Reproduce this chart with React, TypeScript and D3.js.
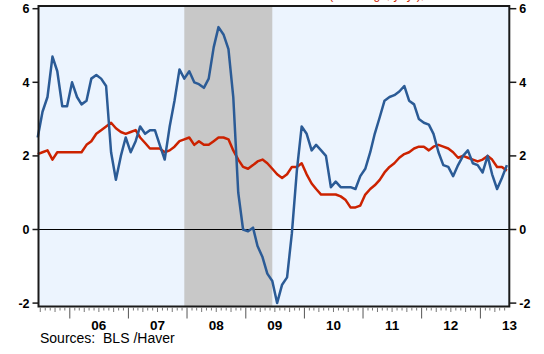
import React, { useEffect, useRef } from 'react';
import * as d3 from 'd3';

// monthly y/y % change, Jun 2005 .. Jun 2013
const headline = [
  2.5, 3.2, 3.6, 4.7, 4.3, 3.35, 3.35,
  4.0, 3.6, 3.4, 3.5, 4.1, 4.2, 4.1, 3.9, 2.1, 1.35, 2.0, 2.5,
  2.1, 2.4, 2.8, 2.6, 2.7, 2.7, 2.3, 1.9, 2.8, 3.5, 4.35, 4.1,
  4.3, 4.0, 3.95, 3.85, 4.1, 4.95, 5.5, 5.3, 4.9, 3.6, 1.0, 0.0,
  -0.05, 0.05, -0.45, -0.75, -1.2, -1.4, -2.0, -1.5, -1.3, -0.1, 1.6, 2.8,
  2.6, 2.15, 2.3, 2.15, 2.0, 1.15, 1.3, 1.15, 1.15, 1.15, 1.1, 1.45,
  1.65, 2.1, 2.6, 3.05, 3.5, 3.6, 3.65, 3.75, 3.9, 3.5, 3.4, 3.0,
  2.9, 2.85, 2.6, 2.1, 1.75, 1.7, 1.45, 1.75, 2.0, 2.15, 1.8, 1.75,
  1.55, 2.0, 1.5, 1.1, 1.4, 1.75
];
const core = [
  2.05, 2.1, 2.15, 1.9, 2.1, 2.1, 2.1,
  2.1, 2.1, 2.1, 2.3, 2.4, 2.6, 2.7, 2.8, 2.9, 2.75, 2.65, 2.6,
  2.65, 2.7, 2.5, 2.35, 2.2, 2.2, 2.2, 2.1, 2.15, 2.25, 2.4, 2.45,
  2.5, 2.3, 2.4, 2.3, 2.3, 2.4, 2.5, 2.5, 2.45, 2.15, 1.9, 1.7,
  1.65, 1.75, 1.85, 1.9, 1.8, 1.65, 1.5, 1.4, 1.5, 1.7, 1.7, 1.8,
  1.5, 1.25, 1.1, 0.95, 0.95, 0.95, 0.95, 0.9, 0.8, 0.6, 0.6, 0.65,
  0.95, 1.1, 1.2, 1.35, 1.55, 1.7, 1.8, 1.95, 2.05, 2.1, 2.2, 2.25,
  2.25, 2.15, 2.25, 2.3, 2.25, 2.2, 2.1, 1.95, 2.0, 1.95, 1.9, 1.85,
  1.9, 2.0, 1.9, 1.7, 1.7, 1.6
];
const yTicks = [-2, 0, 2, 4, 6];
const yearLabels = ['06', '07', '08', '09', '10', '11', '12', '13'];
const recession = [new Date(2007, 11, 15), new Date(2009, 5, 15)];
const title = 'Consumer Price Index: Headline and Core (% change, yr/yr), SA';
const source = 'Sources:  BLS /Haver';

const months = d3.range(headline.length).map(i => new Date(2005, 5 + i, 15));

export default function App() {
  const ref = useRef<SVGSVGElement>(null);

  useEffect(() => {
    const width = 544, height = 354;
    const margin = { top: 6, right: 34.7, bottom: 47.5, left: 38.5 };
    const font = '"Liberation Sans", Arial, sans-serif';

    const x = d3.scaleTime()
      .domain([new Date(2005, 5, 20), new Date(2013, 5, 30)])
      .range([margin.left, width - margin.right]);
    const y = d3.scaleLinear()
      .domain([-2, 6])
      .range([303.1, 8.7]);

    const svg = d3.select(ref.current);
    svg.selectAll('*').remove();
    svg.attr('width', width).attr('height', height);

    const plotBottom = height - margin.bottom;
    const plotRight = width - margin.right;

    // plot background
    svg.append('rect')
      .attr('x', margin.left).attr('y', margin.top)
      .attr('width', plotRight - margin.left).attr('height', plotBottom - margin.top)
      .attr('fill', '#ecf4fe');

    // recession band
    svg.append('rect')
      .attr('x', x(recession[0])).attr('y', margin.top)
      .attr('width', x(recession[1]) - x(recession[0])).attr('height', plotBottom - margin.top)
      .attr('fill', '#c8c8c8');

    // zero line
    svg.append('line')
      .attr('x1', margin.left).attr('x2', plotRight)
      .attr('y1', y(0)).attr('y2', y(0))
      .attr('stroke', '#000').attr('stroke-width', 1.2);

    const line = (vals: number[]) => d3.line<number>()
      .x((_, i) => x(months[i]))
      .y(d => y(d))(vals);

    svg.append('path')
      .attr('d', line(core))
      .attr('fill', 'none').attr('stroke', '#cc2200').attr('stroke-width', 2.5)
      .attr('stroke-linejoin', 'round');
    svg.append('path')
      .attr('d', line(headline))
      .attr('fill', 'none').attr('stroke', '#2b5b96').attr('stroke-width', 2.5)
      .attr('stroke-linejoin', 'round');

    // frame
    svg.append('rect')
      .attr('x', margin.left).attr('y', margin.top)
      .attr('width', plotRight - margin.left).attr('height', plotBottom - margin.top)
      .attr('fill', 'none').attr('stroke', '#1a1a1a').attr('stroke-width', 2);

    // y axes (both sides)
    yTicks.forEach(t => {
      svg.append('line')
        .attr('x1', margin.left - 6).attr('x2', margin.left)
        .attr('y1', y(t)).attr('y2', y(t))
        .attr('stroke', '#1a1a1a').attr('stroke-width', 1.5);
      svg.append('line')
        .attr('x1', plotRight).attr('x2', plotRight + 7)
        .attr('y1', y(t)).attr('y2', y(t))
        .attr('stroke', '#1a1a1a').attr('stroke-width', 1.5);
      svg.append('text')
        .attr('x', margin.left - 9).attr('y', y(t) + 4.5)
        .attr('text-anchor', 'end')
        .attr('font-family', font).attr('font-weight', 'bold').attr('font-size', 12.5)
        .text(t);
      svg.append('text')
        .attr('x', plotRight + 10).attr('y', y(t) + 4.5)
        .attr('font-family', font).attr('font-weight', 'bold').attr('font-size', 12.5)
        .text(t);
    });

    // x axis ticks: monthly, quarterly, yearly
    d3.timeMonth.range(x.domain()[0], x.domain()[1]).forEach(d => {
      const m = d.getMonth();
      const len = m === 0 ? 11 : m % 3 === 0 ? 4.5 : 3;
      svg.append('line')
        .attr('x1', x(d)).attr('x2', x(d))
        .attr('y1', plotBottom + 1).attr('y2', plotBottom + 1 + len)
        .attr('stroke', m === 0 ? '#555' : '#777').attr('stroke-width', 1);
    });
    yearLabels.forEach(l => {
      svg.append('text')
        .attr('x', x(new Date(2000 + +l, 6, 1))).attr('y', 330)
        .attr('text-anchor', 'middle')
        .attr('font-family', font).attr('font-weight', 'bold').attr('font-size', 13.5)
        .text(l);
    });

    svg.append('text')
      .attr('x', 40).attr('y', 343)
      .attr('font-family', font).attr('font-size', 14)
      .style('white-space', 'pre')
      .text(source);

    // title, mostly above the visible area
    svg.append('text')
      .attr('x', 272).attr('y', -1.5)
      .attr('text-anchor', 'middle')
      .attr('font-family', font).attr('font-size', 12).attr('fill', '#cc2200')
      .text(title);
  }, []);

  return (
    <div style={{ position: 'absolute', left: 0, top: 0 }}>
      <svg ref={ref} />
    </div>
  );
}
